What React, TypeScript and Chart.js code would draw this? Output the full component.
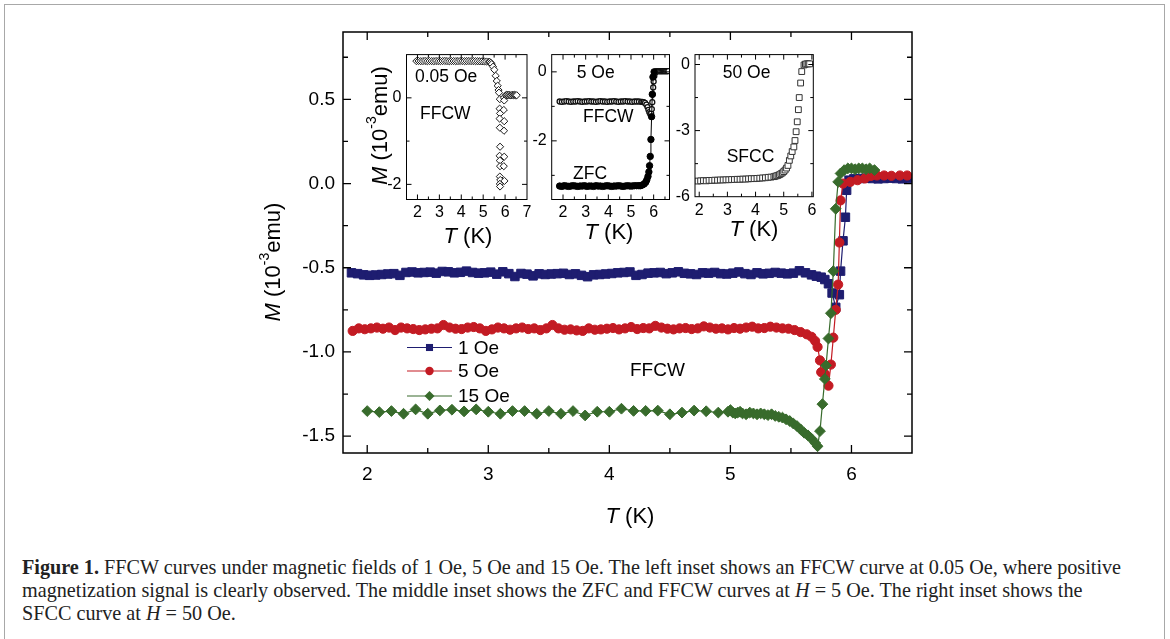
import React, { useEffect, useLayoutEffect, useRef } from 'react';
import { Chart, registerables } from 'chart.js';

Chart.register(...registerables);

const SANS = '"Liberation Sans", Arial, Helvetica, sans-serif';
const SERIF = '"Liberation Serif", "Times New Roman", Times, serif';
Chart.defaults.font.family = SANS;

// ---------------- Main panel: FFCW at 1, 5, 15 Oe ----------------
const mainTRange = [1.8, 6.5];
const mainMRange = [-1.6, 0.9];
const mainTTicks = [2, 3, 4, 5, 6];
const mainTMinor = [2.5, 3.5, 4.5, 5.5];
const mainMTicks = [-1.5, -1.0, -0.5, 0.0, 0.5];
const mainMMinor = [-1.25, -0.75, -0.25, 0.25, 0.75];
const seriesLabels = ['1 Oe', '5 Oe', '15 Oe'];

const oe1T = [1.87,1.92,1.97,2.02,2.07,2.12,2.17,2.22,2.27,2.32,
  2.37,2.42,2.47,2.52,2.57,2.62,2.67,2.72,2.77,2.82,
  2.87,2.92,2.97,3.02,3.07,3.12,3.17,3.22,3.27,3.32,
  3.37,3.42,3.47,3.52,3.57,3.62,3.67,3.72,3.77,3.82,
  3.87,3.92,3.97,4.02,4.07,4.12,4.17,4.22,4.27,4.32,
  4.37,4.42,4.47,4.52,4.57,4.62,4.67,4.72,4.77,4.82,
  4.87,4.92,4.97,5.02,5.07,5.12,5.17,5.22,5.27,5.32,
  5.37,5.42,
  5.47,5.52,5.57,5.62,5.67,5.71,5.75,5.78,5.81,5.84,5.87,5.90,5.91,5.93,5.95,5.96,5.98,
  6.02,6.07,6.12,6.17,6.22,6.27,6.32,6.37,6.42,6.47];
const oe1M = [-0.530,-0.535,-0.542,-0.545,-0.543,-0.540,-0.537,-0.535,-0.545,-0.528,
  -0.525,-0.530,-0.528,-0.526,-0.532,-0.522,-0.524,-0.530,-0.527,-0.520,
  -0.528,-0.532,-0.530,-0.526,-0.538,-0.524,-0.535,-0.552,-0.534,-0.538,
  -0.548,-0.536,-0.540,-0.537,-0.535,-0.533,-0.540,-0.536,-0.545,-0.553,
  -0.542,-0.540,-0.537,-0.534,-0.530,-0.528,
  -0.525,-0.545,-0.540,-0.532,-0.530,-0.528,-0.535,-0.530,-0.524,-0.533,
  -0.536,-0.540,-0.530,-0.532,-0.528,-0.535,-0.537,-0.532,-0.525,-0.535,
  -0.540,-0.530,-0.536,-0.533,-0.528,-0.532,
  -0.536,-0.532,-0.518,-0.530,-0.542,-0.550,-0.556,-0.570,-0.595,-0.650,
  -0.735,-0.660,-0.520,-0.340,-0.200,-0.040,0.020,
  0.028,0.030,0.032,0.030,0.028,0.030,0.032,0.030,0.028,0.030];

const oe5T = [1.88,1.93,1.98,2.03,2.08,2.13,2.18,2.23,2.28,2.33,
  2.38,2.43,2.48,2.53,2.58,2.63,2.68,2.73,2.78,2.83,
  2.88,2.93,2.98,3.03,3.08,3.13,3.18,3.23,3.28,3.33,
  3.38,3.43,3.48,3.53,3.58,3.63,3.68,3.73,3.78,3.83,
  3.88,3.93,3.98,4.03,4.08,4.13,4.18,4.23,4.28,4.33,
  4.38,4.43,4.48,4.53,4.58,4.63,4.68,4.73,4.78,4.83,
  4.88,4.93,4.98,5.03,5.08,5.13,5.18,5.23,5.28,5.33,
  5.38,5.43,
  5.48,5.53,5.58,5.63,5.67,5.70,5.72,5.74,5.75,5.78,
  5.81,5.83,5.85,5.87,5.89,5.90,5.91,5.93,5.99,6.05,
  6.11,6.16,6.21,6.27,6.33,6.40,6.46];
const oe5M = [-0.875,-0.860,-0.865,-0.860,-0.855,-0.862,-0.855,-0.870,-0.855,-0.860,
  -0.864,-0.870,-0.866,-0.862,-0.860,-0.840,-0.855,-0.862,-0.864,-0.855,
  -0.852,-0.860,-0.875,-0.866,-0.855,-0.860,-0.868,-0.860,-0.855,-0.864,
  -0.860,-0.870,-0.860,-0.840,-0.860,-0.868,-0.866,-0.872,-0.875,-0.860,
  -0.868,-0.866,
  -0.862,-0.858,-0.866,-0.860,-0.852,-0.864,-0.858,-0.860,-0.845,-0.855,
  -0.862,-0.866,-0.860,-0.858,-0.864,-0.860,-0.848,-0.855,-0.862,-0.860,
  -0.866,-0.858,-0.862,-0.855,-0.850,-0.860,-0.858,-0.850,-0.855,-0.860,
  -0.862,-0.870,-0.882,-0.895,-0.910,-0.935,-0.970,-1.050,-1.120,-1.130,
  -1.200,-1.075,-0.915,-0.750,-0.600,-0.350,-0.100,0.000,0.010,0.020,
  0.030,0.045,0.048,0.048,0.046,0.048,0.048];

const oe15T = [2.0,2.1,2.2,2.3,2.4,2.5,2.6,2.7,2.8,2.9,
  3.0,3.1,3.2,3.3,3.4,3.5,3.6,3.7,3.8,3.9,
  4.0,4.1,4.2,4.3,4.4,4.5,4.6,4.7,4.8,4.9,
  4.98,5.00,5.02,5.04,5.06,5.08,5.10,5.13,5.16,5.19,
  5.22,5.25,5.28,5.31,5.34,5.37,5.40,5.43,5.46,5.49,
  5.52,5.55,5.58,5.61,5.64,5.67,5.70,5.72,
  5.74,5.76,5.78,5.79,5.81,5.83,5.85,5.87,5.89,5.91,
  5.94,5.97,6.00,6.03,6.06,6.09,6.12,6.15,6.19];
const oe15M = [-1.351,-1.357,-1.351,-1.367,-1.341,-1.367,-1.347,-1.343,-1.353,-1.341,
  -1.355,-1.367,-1.351,-1.351,-1.367,-1.351,-1.367,-1.351,-1.377,-1.355,
  -1.355,-1.337,-1.350,-1.350,-1.348,-1.370,-1.360,-1.348,-1.352,-1.360,
  -1.355,-1.345,-1.360,-1.365,-1.360,-1.355,-1.365,-1.370,-1.360,-1.365,
  -1.370,-1.365,-1.370,-1.375,-1.370,-1.380,-1.385,-1.390,-1.400,-1.410,
  -1.425,-1.440,-1.460,-1.480,-1.495,-1.515,-1.540,-1.560,
  -1.47,-1.31,-1.16,-1.08,-0.92,-0.77,-0.52,-0.15,0.01,0.06,
  0.08,0.09,0.09,0.085,0.09,0.09,0.085,0.09,0.08];

// ---------------- Left inset: FFCW at 0.05 Oe ----------------
const in1TRange = [1.5, 7.0];
const in1MRange = [-2.35, 1.0];
const in1TTicks = [2, 3, 4, 5, 6, 7];
const in1TMinor = [2.5, 3.5, 4.5, 5.5, 6.5];
const in1MTicks = [-2, 0];
const in1MMinor = [-1];
const in1T = [1.95,2.05,2.15,2.25,2.35,2.45,2.55,2.65,2.75,2.85,
  2.95,3.05,3.15,3.25,3.35,3.45,3.55,3.65,3.75,3.85,
  3.95,4.05,4.15,4.25,4.35,4.45,4.55,4.65,4.75,4.85,
  4.95,5.05,5.15,5.25,
  5.30,5.35,5.39,5.45,5.51,5.57,5.62,5.66,5.70,5.72,
  5.76,5.75,5.77,5.75,5.76,5.77,5.75,5.76,5.77,5.76,5.78,5.76,5.77,
  5.95,5.96,5.94,5.96,5.95,5.96,5.94,5.97,
  6.03,6.08,6.13,6.18,6.23,6.28,6.33,6.38,6.43,6.48,6.53];
const in1M = [0.850,0.852,0.848,0.850,0.853,0.849,0.851,0.850,0.848,0.852,
  0.850,0.849,0.851,0.853,0.850,0.848,0.850,0.851,0.849,0.850,
  0.852,0.850,0.848,0.850,0.851,0.849,0.850,0.848,0.847,0.846,
  0.845,0.843,0.840,0.836,
  0.830,0.810,0.780,0.720,0.650,0.510,0.390,0.280,0.180,0.120,
  -0.03,-0.25,-0.36,-0.48,-0.69,-1.13,-1.34,-1.45,-1.58,-1.82,-1.90,-1.99,-2.05,
  0.00,-0.06,-0.28,-0.54,-0.76,-1.36,-1.58,-1.92,
  0.06,0.07,0.06,0.07,0.06,0.06,0.07,0.06,0.07,0.06,0.06];

// ---------------- Middle inset: ZFC and FFCW at 5 Oe ----------------
const in2TRange = [1.5, 6.7];
const in2MRange = [-3.7, 0.5];
const in2TTicks = [2, 3, 4, 5, 6];
const in2TMinor = [2.5, 3.5, 4.5, 5.5, 6.5];
const in2MTicks = [-2, 0];
const in2MMinor = [-3, -1];
const fcwT = [1.85,1.95,2.05,2.15,2.25,2.35,2.45,2.55,2.65,2.75,
  2.85,2.95,3.05,3.15,3.25,3.35,3.45,3.55,3.65,3.75,
  3.85,3.95,4.05,4.15,4.25,4.35,4.45,4.55,4.65,4.75,
  4.85,4.95,5.05,5.15,5.25,5.35,5.45,
  5.50,5.56,5.62,5.68,5.73,5.77,5.81,5.85,5.89,5.92,
  5.94,5.96,5.98,6.00,6.03,6.06,6.10,6.15,6.20,6.25,
  6.30,6.35,6.40,6.45,6.50,6.55,6.60,6.65];
const fcwM = [-0.86,-0.87,-0.86,-0.85,-0.86,-0.87,-0.86,-0.86,-0.85,-0.86,
  -0.87,-0.86,-0.86,-0.85,-0.86,-0.86,-0.87,-0.86,-0.85,-0.86,
  -0.86,-0.87,-0.86,-0.86,-0.85,-0.86,-0.87,-0.86,-0.86,-0.85,
  -0.86,-0.86,-0.87,-0.86,-0.86,-0.86,-0.87,
  -0.87,-0.88,-0.90,-0.95,-1.02,-1.10,-1.17,-1.22,-1.20,-1.08,
  -0.88,-0.66,-0.45,-0.28,-0.12,-0.03,0.01,0.02,0.02,0.02,
  0.02,0.02,0.02,0.02,0.02,0.02,0.02,0.02];
const zfcT = [1.85,1.95,2.05,2.15,2.25,2.35,2.45,2.55,2.65,2.75,
  2.85,2.95,3.05,3.15,3.25,3.35,3.45,3.55,3.65,3.75,
  3.85,3.95,4.05,4.15,4.25,4.35,4.45,4.55,4.65,4.75,
  4.85,4.95,5.05,5.15,5.25,5.35,
  5.42,5.50,5.58,5.65,5.70,5.75,5.79,5.82,5.85,5.88,5.91,5.94,5.97,6.02];
const zfcM = [-3.31,-3.32,-3.30,-3.31,-3.32,-3.31,-3.30,-3.31,-3.32,-3.31,
  -3.31,-3.30,-3.32,-3.31,-3.31,-3.32,-3.30,-3.31,-3.31,-3.32,
  -3.31,-3.30,-3.31,-3.32,-3.31,-3.31,-3.30,-3.31,-3.32,-3.31,
  -3.30,-3.31,-3.31,-3.30,-3.30,-3.30,
  -3.30,-3.28,-3.25,-3.20,-3.13,-3.03,-2.90,-2.72,-2.45,-1.96,-1.30,-0.65,-0.15,0.00];

// ---------------- Right inset: SFCC at 50 Oe ----------------
const in3TRange = [1.85, 6.05];
const in3MRange = [-6.0, 0.45];
const in3TTicks = [2, 3, 4, 5, 6];
const in3TMinor = [2.5, 3.5, 4.5, 5.5];
const in3MTicks = [-6, -3, 0];
const in3MMinor = [-4.5, -1.5];
const sfccT = [1.95,2.05,2.15,2.25,2.35,2.45,2.55,2.65,2.75,2.85,
  2.95,3.05,3.15,3.25,3.35,3.45,3.55,3.65,3.75,3.85,
  3.95,4.05,4.15,4.25,4.35,4.45,4.55,4.65,
  4.70,4.75,4.80,4.85,4.90,4.95,5.00,5.05,5.10,5.15,
  5.20,5.25,5.30,5.36,5.40,5.44,5.48,5.52,5.55,5.60,
  5.64,5.72,5.77,5.82,5.87,5.92];
const sfccM = [-5.29,-5.28,-5.27,-5.28,-5.26,-5.26,-5.25,-5.25,-5.24,-5.24,
  -5.23,-5.23,-5.22,-5.22,-5.21,-5.21,-5.20,-5.20,-5.19,-5.18,
  -5.18,-5.17,-5.16,-5.15,-5.14,-5.12,-5.11,-5.09,
  -5.07,-5.05,-5.03,-5.00,-4.96,-4.92,-4.86,-4.79,-4.70,-4.58,
  -4.35,-4.15,-3.95,-3.74,-3.45,-3.05,-2.60,-2.05,-1.50,-0.84,
  -0.32,-0.02,0.02,0.03,0.03,0.03];

// ---------------- helpers ----------------
type Part = { t: string; italic?: boolean; sup?: boolean };
type Title = { parts: Part[]; cx: number; cy: number; size: number; rotate?: boolean };
type Note = { text: string; x: number; cy: number; size: number };
type LegendSpec = { x0: number; x1: number; textX: number; rows: number[]; size: number; markR: number[] };
type Spec = {
  left: number; top: number; w: number; h: number;
  area: { l: number; t: number; r: number; b: number };
  xRange: number[]; yRange: number[];
  xTicks: number[]; xMinor: number[]; yTicks: number[]; yMinor: number[];
  xFmt: (v: number) => string; yFmt: (v: number) => string;
  tickSize: number; xPad: number; yPad: number;
  majorLen: number; minorLen: number; frameW: number; tickW: number;
  datasets: any[];
  titles: Title[]; notes: Note[]; legend?: LegendSpec;
};

const pts = (xs: number[], ys: number[]) => xs.map((x, i) => ({ x, y: ys[i] }));
const intFmt = (v: number) => String(Math.round(v));

const TK: Part[] = [{ t: 'T', italic: true }, { t: ' (K)' }];
const MU: Part[] = [{ t: 'M', italic: true }, { t: ' (10' }, { t: '-3', sup: true }, { t: 'emu)' }];

function partFont(p: Part, size: number) {
  return `${p.italic ? 'italic ' : ''}${p.sup ? Math.round(size * 0.64) : size}px ${SANS}`;
}

function drawTitle(ctx: CanvasRenderingContext2D, t: Title) {
  ctx.save();
  ctx.translate(t.cx, t.cy);
  if (t.rotate) ctx.rotate(-Math.PI / 2);
  ctx.fillStyle = '#000';
  ctx.textBaseline = 'middle';
  ctx.textAlign = 'left';
  let total = 0;
  const ws = t.parts.map((p) => {
    ctx.font = partFont(p, t.size);
    const w = ctx.measureText(p.t).width;
    total += w;
    return w;
  });
  let x = -total / 2;
  t.parts.forEach((p, i) => {
    ctx.font = partFont(p, t.size);
    ctx.fillText(p.t, x, p.sup ? -t.size * 0.4 : 0);
    x += ws[i];
  });
  ctx.restore();
}

function drawMarker(ctx: CanvasRenderingContext2D, style: string, x: number, y: number, r: number) {
  ctx.beginPath();
  if (style === 'rect') {
    const s = r * Math.SQRT1_2;
    ctx.rect(x - s, y - s, 2 * s, 2 * s);
  } else if (style === 'rectRot') {
    ctx.moveTo(x, y - r);
    ctx.lineTo(x + r, y);
    ctx.lineTo(x, y + r);
    ctx.lineTo(x - r, y);
    ctx.closePath();
  } else {
    ctx.arc(x, y, r, 0, Math.PI * 2);
  }
}

function decor(spec: Spec) {
  return {
    id: 'decor',
    afterDatasetsDraw(chart: any) {
      const ctx: CanvasRenderingContext2D = chart.ctx;
      const a = chart.chartArea;
      const xs = chart.scales.x;
      const ys = chart.scales.y;
      ctx.save();
      ctx.strokeStyle = '#000';
      ctx.lineWidth = spec.tickW;
      ctx.beginPath();
      const vt = (v: number, len: number) => {
        const px = xs.getPixelForValue(v);
        if (px <= a.left + 1 || px >= a.right - 1) return;
        ctx.moveTo(px, a.bottom); ctx.lineTo(px, a.bottom - len);
        ctx.moveTo(px, a.top); ctx.lineTo(px, a.top + len);
      };
      const ht = (v: number, len: number) => {
        const py = ys.getPixelForValue(v);
        if (py <= a.top + 1 || py >= a.bottom - 1) return;
        ctx.moveTo(a.left, py); ctx.lineTo(a.left + len, py);
        ctx.moveTo(a.right, py); ctx.lineTo(a.right - len, py);
      };
      spec.xTicks.forEach((v) => vt(v, spec.majorLen));
      spec.xMinor.forEach((v) => vt(v, spec.minorLen));
      spec.yTicks.forEach((v) => ht(v, spec.majorLen));
      spec.yMinor.forEach((v) => ht(v, spec.minorLen));
      ctx.stroke();
      ctx.lineWidth = spec.frameW;
      ctx.strokeRect(a.left, a.top, a.right - a.left, a.bottom - a.top);

      ctx.translate(-spec.left, -spec.top);
      spec.titles.forEach((t) => drawTitle(ctx, t));
      ctx.fillStyle = '#000';
      ctx.textBaseline = 'middle';
      ctx.textAlign = 'left';
      spec.notes.forEach((n) => {
        ctx.font = `${n.size}px ${SANS}`;
        ctx.fillText(n.text, n.x, n.cy);
      });
      const L = spec.legend;
      if (L) {
        chart.data.datasets.forEach((ds: any, i: number) => {
          const y = L.rows[i];
          ctx.strokeStyle = ds.borderColor;
          ctx.lineWidth = ds.borderWidth;
          ctx.beginPath();
          ctx.moveTo(L.x0, y);
          ctx.lineTo(L.x1, y);
          ctx.stroke();
          ctx.fillStyle = ds.pointBackgroundColor;
          drawMarker(ctx, ds.pointStyle, (L.x0 + L.x1) / 2, y, L.markR[i]);
          ctx.fill();
          ctx.fillStyle = '#000';
          ctx.font = `${L.size}px ${SANS}`;
          ctx.fillText(ds.label, L.textX, y + 1);
        });
      }
      ctx.restore();
    },
  };
}

function buildConfig(spec: Spec): any {
  const tickFont = { family: SANS, size: spec.tickSize };
  return {
    type: 'scatter',
    data: { datasets: spec.datasets },
    options: {
      responsive: false,
      animation: false,
      events: [],
      layout: {
        padding: {
          left: 0,
          top: spec.area.t - spec.top,
          right: spec.left + spec.w - spec.area.r,
          bottom: 0,
        },
      },
      plugins: { legend: { display: false }, tooltip: { enabled: false } },
      scales: {
        x: {
          type: 'linear',
          position: 'bottom',
          min: spec.xRange[0],
          max: spec.xRange[1],
          afterBuildTicks: (s: any) => { s.ticks = spec.xTicks.map((v) => ({ value: v })); },
          afterFit: (s: any) => { s.height = spec.top + spec.h - spec.area.b; },
          grid: { display: false, drawTicks: false },
          border: { display: false },
          ticks: {
            padding: spec.xPad, color: '#000', font: tickFont,
            maxRotation: 0, minRotation: 0, autoSkip: false,
            callback: (v: any) => spec.xFmt(Number(v)),
          },
        },
        y: {
          type: 'linear',
          position: 'left',
          min: spec.yRange[0],
          max: spec.yRange[1],
          afterBuildTicks: (s: any) => { s.ticks = spec.yTicks.map((v) => ({ value: v })); },
          afterFit: (s: any) => { s.width = spec.area.l - spec.left; },
          grid: { display: false, drawTicks: false },
          border: { display: false },
          ticks: {
            padding: spec.yPad, color: '#000', font: tickFont, autoSkip: false,
            callback: (v: any) => spec.yFmt(Number(v)),
          },
        },
      },
    },
    plugins: [decor(spec)],
  };
}

function Panel({ spec }: { spec: Spec }) {
  const ref = useRef<HTMLCanvasElement>(null);
  useEffect(() => {
    const chart = new Chart(ref.current as HTMLCanvasElement, buildConfig(spec));
    return () => chart.destroy();
  }, [spec]);
  return (
    <canvas
      ref={ref}
      width={spec.w}
      height={spec.h}
      style={{ position: 'absolute', left: spec.left, top: spec.top, width: spec.w, height: spec.h }}
    />
  );
}

// ---------------- specs ----------------
const NAVY = '#1e1d70';
const RED = '#c31b23';
const GREEN = '#386b2c';

const series = (label: string, xs: number[], ys: number[], color: string, style: string, r: number, order: number) => ({
  label,
  data: pts(xs, ys),
  showLine: true,
  borderColor: color,
  backgroundColor: color,
  borderWidth: 1.2,
  pointStyle: style,
  pointRadius: r,
  pointBorderWidth: 1,
  pointBorderColor: color,
  pointBackgroundColor: color,
  order,
});

const mainSpec: Spec = {
  left: 0, top: 0, w: 1170, h: 540,
  area: { l: 343, t: 32, r: 912, b: 453 },
  xRange: mainTRange, yRange: mainMRange,
  xTicks: mainTTicks, xMinor: mainTMinor, yTicks: mainMTicks, yMinor: mainMMinor,
  xFmt: intFmt, yFmt: (v) => v.toFixed(1),
  tickSize: 19, xPad: 10, yPad: 8,
  majorLen: 8, minorLen: 5, frameW: 1.5, tickW: 1.3,
  datasets: [
    series(seriesLabels[0], oe1T, oe1M, NAVY, 'rect', 6, 2),
    series(seriesLabels[1], oe5T, oe5M, RED, 'circle', 4.6, 1),
    series(seriesLabels[2], oe15T, oe15M, GREEN, 'rectRot', 5.4, 0),
  ],
  titles: [
    { parts: TK, cx: 630, cy: 517, size: 22 },
    { parts: MU, cx: 274, cy: 262, size: 22, rotate: true },
  ],
  notes: [{ text: 'FFCW', x: 630, cy: 370.5, size: 19 }],
  legend: { x0: 407, x1: 452, textX: 458, rows: [347.5, 371, 396], size: 19, markR: [5, 4.2, 5] },
};

const inset1: Spec = {
  left: 350, top: 40, w: 185, h: 215,
  area: { l: 406.5, t: 51.5, r: 527, b: 199.5 },
  xRange: in1TRange, yRange: in1MRange,
  xTicks: in1TTicks, xMinor: in1TMinor, yTicks: in1MTicks, yMinor: in1MMinor,
  xFmt: intFmt, yFmt: intFmt,
  tickSize: 16, xPad: 3.5, yPad: 5,
  majorLen: 5, minorLen: 3, frameW: 1, tickW: 1,
  datasets: [{
    label: '0.05 Oe FFCW', data: pts(in1T, in1M), showLine: false,
    pointStyle: 'rectRot', pointRadius: 3.6, pointBorderWidth: 1,
    pointBorderColor: '#1a1a1a', pointBackgroundColor: '#ffffff',
  }],
  titles: [
    { parts: TK, cx: 468, cy: 237, size: 22 },
    { parts: MU, cx: 381, cy: 125.5, size: 22, rotate: true },
  ],
  notes: [
    { text: '0.05 Oe', x: 415, cy: 77, size: 17.5 },
    { text: 'FFCW', x: 420, cy: 114, size: 17.5 },
  ],
};

const inset2: Spec = {
  left: 530, top: 40, w: 150, h: 215,
  area: { l: 551.7, t: 51.5, r: 669.5, b: 199.5 },
  xRange: in2TRange, yRange: in2MRange,
  xTicks: in2TTicks, xMinor: in2TMinor, yTicks: in2MTicks, yMinor: in2MMinor,
  xFmt: intFmt, yFmt: intFmt,
  tickSize: 16, xPad: 3.5, yPad: 5,
  majorLen: 5, minorLen: 3, frameW: 1, tickW: 1,
  datasets: [
    {
      label: 'ZFC', data: pts(zfcT, zfcM), showLine: true,
      borderColor: '#000', borderWidth: 1,
      pointStyle: 'circle', pointRadius: 3.2, pointBorderWidth: 1,
      pointBorderColor: '#000', pointBackgroundColor: '#000',
    },
    {
      label: 'FFCW', data: pts(fcwT, fcwM), showLine: true,
      borderColor: '#000', borderWidth: 0.9,
      pointStyle: 'circle', pointRadius: 2.5, pointBorderWidth: 1.3,
      pointBorderColor: '#111', pointBackgroundColor: '#ffffff',
    },
  ],
  titles: [{ parts: TK, cx: 609, cy: 232.5, size: 22 }],
  notes: [
    { text: '5 Oe', x: 576.7, cy: 73.5, size: 17.5 },
    { text: 'FFCW', x: 583, cy: 117.5, size: 17.5 },
    { text: 'ZFC', x: 573, cy: 174, size: 17.5 },
  ],
};

const inset3: Spec = {
  left: 670, top: 40, w: 160, h: 215,
  area: { l: 695, t: 51.5, r: 813.3, b: 196.7 },
  xRange: in3TRange, yRange: in3MRange,
  xTicks: in3TTicks, xMinor: in3TMinor, yTicks: in3MTicks, yMinor: in3MMinor,
  xFmt: intFmt, yFmt: intFmt,
  tickSize: 16, xPad: 4, yPad: 5,
  majorLen: 5, minorLen: 3, frameW: 1, tickW: 1,
  datasets: [{
    label: 'SFCC', data: pts(sfccT, sfccM), showLine: false,
    pointStyle: 'rect', pointRadius: 4.1, pointBorderWidth: 1,
    pointBorderColor: '#333', pointBackgroundColor: '#ffffff',
  }],
  titles: [{ parts: TK, cx: 754, cy: 229.5, size: 22 }],
  notes: [
    { text: '50 Oe', x: 722.7, cy: 73.5, size: 17.5 },
    { text: 'SFCC', x: 726.7, cy: 157.5, size: 17.5 },
  ],
};

export default function App() {
  const capRef = useRef<HTMLDivElement>(null);
  useLayoutEffect(() => {
    document.body.style.margin = '0';
    const el = capRef.current;
    if (!el) return;
    const first = el.querySelector('span') as HTMLSpanElement | null;
    if (!first) return;
    const w = first.getBoundingClientRect().width;
    if (w > 0) el.style.fontSize = `${(18 * 1100) / w}px`;
  }, []);

  return (
    <div style={{ position: 'relative', width: 1170, height: 639, background: '#fff', overflow: 'hidden' }}>
      <div
        style={{
          position: 'absolute', left: 4, top: 4, width: 1161, height: 700,
          border: '1px solid #a8a8a8', boxSizing: 'border-box',
        }}
      />
      <Panel spec={mainSpec} />
      <Panel spec={inset1} />
      <Panel spec={inset2} />
      <Panel spec={inset3} />
      <div
        ref={capRef}
        style={{
          position: 'absolute', left: 22, top: 556, fontFamily: SERIF, fontSize: 18,
          lineHeight: '23px', color: '#222', whiteSpace: 'nowrap',
        }}
      >
        <div>
          <span>
            <b>Figure 1.</b> FFCW curves under magnetic fields of 1 Oe, 5 Oe and 15 Oe. The left inset shows an FFCW curve at 0.05 Oe, where positive
          </span>
        </div>
        <div>
          magnetization signal is clearly observed. The middle inset shows the ZFC and FFCW curves at <i>H</i> = 5 Oe. The right inset shows the
        </div>
        <div>
          SFCC curve at <i>H</i> = 50 Oe.
        </div>
      </div>
    </div>
  );
}
